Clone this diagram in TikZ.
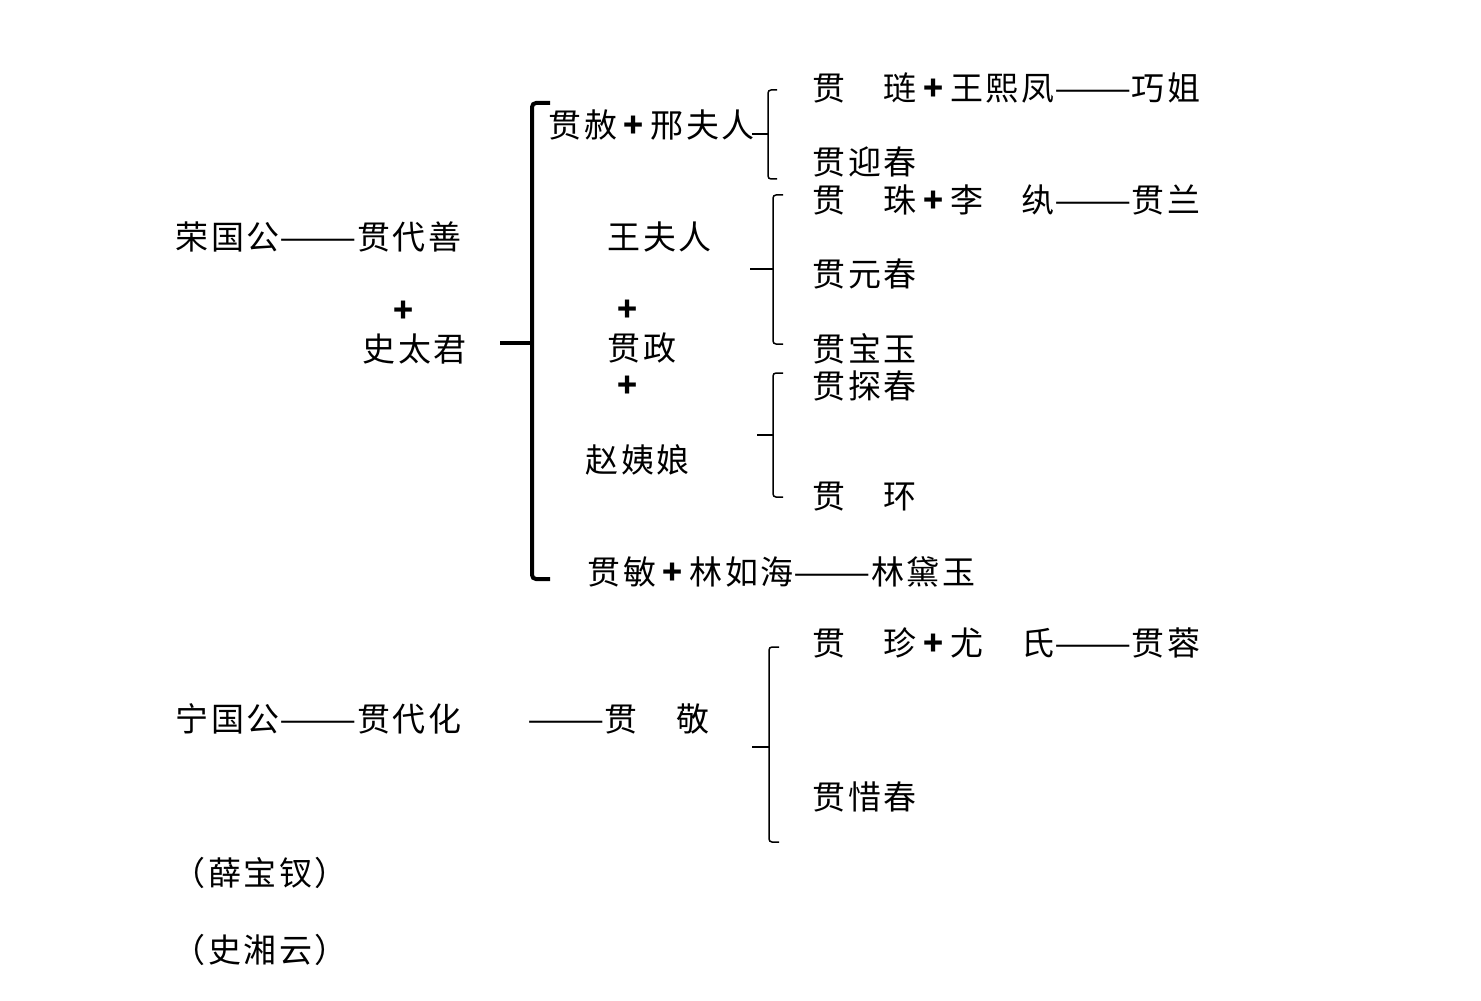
\documentclass[tikz,border=0pt]{standalone}
\usepackage{fontspec}
\usepackage{graphicx}
\newfontfamily\cjk[LetterSpace=8]{Noto Sans CJK SC}
\newcommand\mydash{\scalebox{1.4}[1]{——}}
\newcommand\myplus{\hspace{2pt}\textbf{+}\hspace{2pt}}
\begin{document}
\begin{tikzpicture}[x=0.5pt,y=-0.5pt,
  lbl/.style={anchor=west,inner sep=0pt,font=\cjk\fontsize{16.5}{18}\selectfont},
  plus/.style={inner sep=0pt,font=\cjk\bfseries\fontsize{16.5}{18}\selectfont},
  bigbr/.style={line width=2pt,rounded corners=2pt},
  smbr/.style={line width=0.75pt,rounded corners=1.5pt}]
\useasboundingbox (0,0) rectangle (1481,1000);
% Rongguo line
\node[lbl] (rg) at (175,237) {荣国公\mydash 贯代善};
\node[plus] (p1) at (404,312) {+};
\node[lbl] (stj) at (362,349) {史太君};
% second generation
\node[lbl] (jshe) at (548,125) {贯赦\myplus 邢夫人};
\node[lbl] (wfr) at (607,237) {王夫人};
\node[plus] (p2) at (628,311) {+};
\node[lbl] (jz) at (607,348) {贯政};
\node[plus] (p3) at (628,387) {+};
\node[lbl] (zyn) at (585,460) {赵姨娘};
\node[lbl] (jm) at (587,572) {贯敏\myplus 林如海\mydash 林黛玉};
% third generation
\node[lbl] (jl) at (812,88) {贯　琏\myplus 王熙凤\mydash 巧姐};
\node[lbl] (jyc) at (812,162) {贯迎春};
\node[lbl] (jzh) at (812,200) {贯　珠\myplus 李　纨\mydash 贯兰};
\node[lbl] (jyuan) at (812,274) {贯元春};
\node[lbl] (jby) at (812,349) {贯宝玉};
\node[lbl] (jtc) at (812,386) {贯探春};
\node[lbl] (jh) at (812,497) {贯　环};
% Ningguo line
\node[lbl] (ng) at (175,719) {宁国公\mydash 贯代化};
\node[lbl] (jj) at (527,719) {\mydash 贯　敬};
\node[lbl] (jzhen) at (812,643) {贯　珍\myplus 尤　氏\mydash 贯蓉};
\node[lbl] (jxc) at (812,797) {贯惜春};
% notes
\node[lbl] (xbc) at (172,873) {（薛宝钗）};
\node[lbl] (sxy) at (172,950) {（史湘云）};
% big bracket
\coordinate (B0t) at (550,103);
\coordinate (B0b) at (550,579);
\coordinate (B0m) at (500,343);
\draw[bigbr] (B0t) -- (532,103) -- (532,579) -- (B0b);
\draw[bigbr] (B0m) -- (532,343);
% bracket 1
\coordinate (B1t) at (777,90);
\coordinate (B1b) at (777,179);
\coordinate (B1m) at (752,134);
\draw[smbr] (B1t) -- (768,90) -- (768,179) -- (B1b);
\draw[smbr] (B1m) -- (768,134);
% bracket 2
\coordinate (B2t) at (783,195);
\coordinate (B2b) at (783,344);
\coordinate (B2m) at (750,269);
\draw[smbr] (B2t) -- (773,195) -- (773,344) -- (B2b);
\draw[smbr] (B2m) -- (773,269);
% bracket 3
\coordinate (B3t) at (783,373);
\coordinate (B3b) at (783,497);
\coordinate (B3m) at (757,435);
\draw[smbr] (B3t) -- (773,373) -- (773,497) -- (B3b);
\draw[smbr] (B3m) -- (773,435);
% bracket 4
\coordinate (B4t) at (779,647);
\coordinate (B4b) at (779,842);
\coordinate (B4m) at (752,747);
\draw[smbr] (B4t) -- (769,647) -- (769,842) -- (B4b);
\draw[smbr] (B4m) -- (769,747);
\end{tikzpicture}
\end{document}
